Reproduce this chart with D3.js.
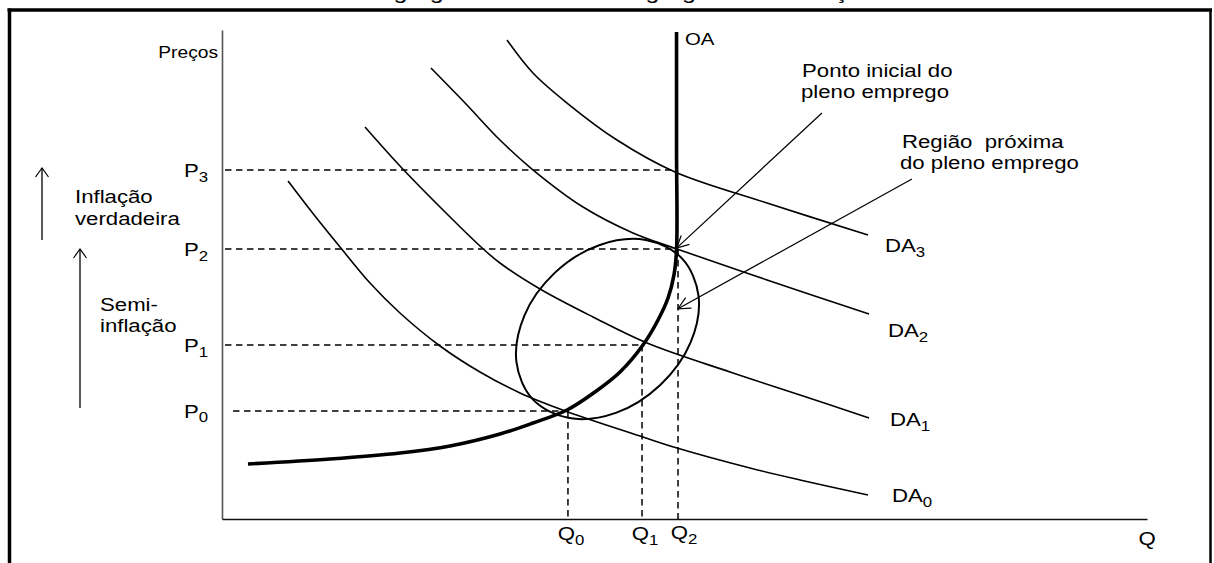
<!DOCTYPE html>
<html><head><meta charset="utf-8">
<script src="https://cdn.jsdelivr.net/npm/d3@7"></script>
<style>
html,body{margin:0;padding:0;background:#fff;overflow:hidden}
svg{display:block}
text{font-family:"Liberation Sans",Arial,sans-serif;fill:#000}
</style></head>
<body><svg id="c" width="1214" height="563"></svg>
<script>
// ---------- data (Q and P in chart units 0..100) ----------
const priceLabels = ["0", "1", "2", "3"];
const priceValues = [22.09, 35.58, 55.21, 71.37];
const quantityLabels = ["0", "1", "2"];
const quantityValues = [37.4, 45.41, 49.3];
const oaQ = 49.14; // vertical part of OA

const oaCurve = [[2.81,11.25],[11.68,12.27],[19.24,13.50],[24.65,14.93],[30.05,17.38],[33.62,19.63],
  [37.30,22.29],[40.32,25.97],[43.03,30.06],[45.51,35.58],[47.14,40.70],[48.22,45.19],[48.86,49.90],
  [49.14,55.01],[49.14,75.46],[49.14,99.59]];
const da0 = [[7.14,69.12],[10.05,61.96],[12.76,55.62],[16.0,48.26],[19.24,42.13],[23.57,35.38],[27.89,30.06],
  [32.22,25.77],[37.41,21.88],[45.51,16.77],[49.19,14.52],[57.08,10.43],[62.49,7.98],[69.84,4.91]];
const da1 = [[15.46,80.16],[19.24,72.19],[23.57,63.8],[27.89,55.83],[30.05,52.35],[34.38,47.03],[40.11,41.31],
  [45.95,35.99],[54.92,30.06],[62.49,25.36],[69.95,20.65]];
const da2 = [[22.59,92.23],[26.38,84.87],[30.05,77.5],[33.51,71.57],[39.03,63.8],[44.43,58.49],[49.19,55.21],
  [58.92,48.88],[69.95,41.92]];
const da3 = [[30.81,97.96],[33.62,91.21],[37.30,85.07],[42.70,77.5],[48.97,70.96],[58.92,64.62],[69.84,58.08]];
const demandSeries = [da0, da1, da2, da3];
const demandLabels = ["0", "1", "2", "3"];
const ellipsePts = [[49.75,53.25],[51.52,45.6],[50.66,36.1],[47.38,27.4],[42.58,21.7],[37.54,20.65],
  [33.6,24.46],[31.83,32.13],[32.69,41.6],[35.97,50.33],[40.77,55.99],[45.82,57.06]];
const arrowPonto = [[64.86,83.03],[49.14,55.4]];
const arrowRegiao = [[74.59,69.53],[49.3,43.0]];

// ---------- layout ----------
const svg = d3.select("#c");
const x = d3.scaleLinear().domain([0,100]).range([222,1147]);
const y = d3.scaleLinear().domain([0,100]).range([519,30]);
const SX = 1.2;

function label(px, py, main, sub, o={}) {
  const fs = o.fs || 18.5, sfs = o.sfs || 14, dy = o.dy || 4.5;
  const t = svg.append("text")
    .attr("transform", `translate(${px},${py}) scale(${o.sx || SX},1)`)
    .attr("font-size", fs).attr("text-anchor", o.anchor || "start")
    .attr("xml:space","preserve");
  t.append("tspan").text(main);
  if (sub) t.append("tspan").attr("font-size", sfs).attr("dy", dy).text(sub);
  return t;
}

// frame
svg.append("line").attr("x1",7.5).attr("x2",1212).attr("y1",10).attr("y2",10).attr("stroke","#000").attr("stroke-width",3.5);
svg.append("line").attr("x1",9.5).attr("x2",9.5).attr("y1",8.5).attr("y2",570).attr("stroke","#000").attr("stroke-width",3.5);
svg.append("line").attr("x1",1210.5).attr("x2",1210.5).attr("y1",9).attr("y2",570).attr("stroke","#000").attr("stroke-width",2.5);

// clipped title (only descenders visible, as in the reference)
label(301, -1.5, "Oferta Agregada e Demanda Agregada e a Inflação", null, {fs:21});

// axes
const yAx = svg.append("g").attr("transform",`translate(${x(0)},0)`)
  .call(d3.axisLeft(y).tickValues([]).tickSizeOuter(0));
yAx.select(".domain").attr("stroke","#555").attr("stroke-width",1.6);
const xAx = svg.append("g").attr("transform",`translate(0,${y(0)})`)
  .call(d3.axisBottom(x).tickValues([]).tickSizeOuter(0));
xAx.select(".domain").attr("stroke","#111").attr("stroke-width",1.6);

// dashed guides
const dash = "6.5,4.5";
const hStart = [1.19, 0.32, 0.32, 0.32];
const hEnd = [quantityValues[0], quantityValues[1], oaQ, oaQ];
priceValues.forEach((p,i) => {
  svg.append("line").attr("x1",x(hStart[i])).attr("x2",x(hEnd[i]))
    .attr("y1",y(p)).attr("y2",y(p))
    .attr("stroke","#000").attr("stroke-width",1.5).attr("stroke-dasharray",dash);
  label(184, y(p)+7, "P", priceLabels[i]);
});
quantityValues.forEach((q,i) => {
  svg.append("line").attr("x1",x(q)).attr("x2",x(q))
    .attr("y1",y(priceValues[i])).attr("y2",y(0))
    .attr("stroke","#000").attr("stroke-width",1.5).attr("stroke-dasharray",dash);
  label(x(q)+ (i===2?6:3), 540 - (i===2?1.5:0), "Q", quantityLabels[i], {anchor:"middle", dy:5});
});

// curves
const line = d3.line().x(d=>x(d[0])).y(d=>y(d[1])).curve(d3.curveCatmullRom.alpha(0.5));
demandSeries.forEach(s => {
  svg.append("path").attr("d", line(s)).attr("fill","none").attr("stroke","#000").attr("stroke-width",1.6);
});
svg.append("path").attr("d", d3.line().x(d=>x(d[0])).y(d=>y(d[1])).curve(d3.curveCatmullRomClosed.alpha(0.5))(ellipsePts))
  .attr("fill","none").attr("stroke","#000").attr("stroke-width",2);
svg.append("path").attr("d", line(oaCurve)).attr("fill","none").attr("stroke","#000")
  .attr("stroke-width",3.6).attr("stroke-linejoin","round");

// demand labels
const daLabelPos = [[892,502],[890,426],[888,337],[885,252]];
demandLabels.forEach((s,i) => label(daLabelPos[i][0], daLabelPos[i][1], "DA", s));

// axis labels
label(218, 58, "Preços", null, {fs:16, anchor:"end"});
label(1147, 545, "Q", null, {anchor:"middle"});
label(685, 45, "OA", null, {fs:17});

// annotations
label(802, 77, "Ponto inicial do");
label(801, 98, "pleno emprego");
label(902, 148, "Região  próxima");
label(900, 169, "do pleno emprego");
label(75, 203, "Inflação");
label(75, 225, "verdadeira");
label(100, 311, "Semi-");
label(100, 332, "inflação");

// arrow markers
const defs = svg.append("defs");
defs.append("marker").attr("id","head").attr("markerUnits","userSpaceOnUse")
  .attr("viewBox","-14 -8 16 16").attr("refX",0).attr("refY",0)
  .attr("markerWidth",16).attr("markerHeight",16).attr("orient","auto")
  .append("path").attr("d","M-12,-6L0,0L-12,6").attr("fill","none").attr("stroke","#000").attr("stroke-width",1.2);
defs.append("marker").attr("id","headS").attr("markerUnits","userSpaceOnUse")
  .attr("viewBox","-14 -8 16 16").attr("refX",0).attr("refY",0)
  .attr("markerWidth",16).attr("markerHeight",16).attr("orient","auto")
  .append("path").attr("d","M-9,-6.5L0,0L-9,6.5").attr("fill","none").attr("stroke","#000").attr("stroke-width",1.2);

[arrowPonto, arrowRegiao].forEach(a => {
  svg.append("line").attr("x1",x(a[0][0])).attr("y1",y(a[0][1]))
    .attr("x2",x(a[1][0])).attr("y2",y(a[1][1]))
    .attr("stroke","#000").attr("stroke-width",1.2).attr("marker-end","url(#head)");
});
// left-side vertical arrows
[[42,240,168],[80,408,249]].forEach(a => {
  svg.append("line").attr("x1",a[0]).attr("x2",a[0]).attr("y1",a[1]).attr("y2",a[2])
    .attr("stroke","#000").attr("stroke-width",1.3).attr("marker-end","url(#headS)");
});
</script>
</body></html>
